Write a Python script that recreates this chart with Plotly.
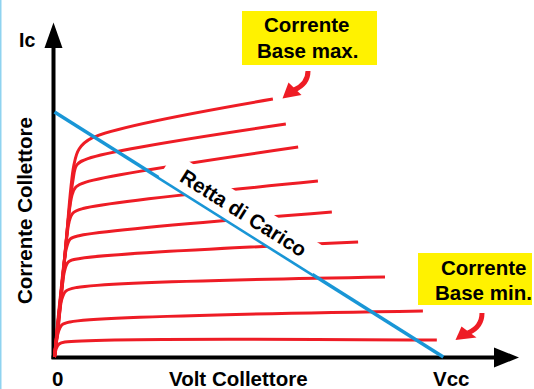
import plotly.graph_objects as go

W, H = 534, 389

# Load line: supply voltage (V) and collector saturation current (mA)
VCC = 12.0
IC_SAT = 10.0

# Output characteristics, one curve per base current (lowest base current first).
# Collector-emitter voltage in V
CURVE_VCE = [
    [0, 0.05, 0.14, 0.32, 11.80],
    [0, 0.11, 0.23, 0.48, 11.37],
    [0, 0.11, 0.22, 0.35, 0.69, 10.20],
    [0, 0.15, 0.31, 0.43, 0.79, 9.37],
    [0, 0.17, 0.37, 0.49, 0.79, 8.56],
    [0, 0.23, 0.45, 0.57, 0.88, 8.13],
    [0, 0.26, 0.54, 0.66, 0.97, 7.52],
    [0, 0.29, 0.57, 0.69, 1.03, 7.14],
    [0, 0.31, 0.60, 0.76, 1.16, 6.74],
]
# Collector current in mA
CURVE_IC = [
    [0, 0.33, 0.53, 0.61, 0.69],
    [0, 0.98, 1.31, 1.43, 1.88],
    [0, 1.10, 2.33, 2.69, 2.84, 3.27],
    [0, 1.71, 3.51, 3.88, 4.02, 4.69],
    [0, 2.33, 4.45, 4.82, 4.96, 5.92],
    [0, 2.73, 5.51, 5.88, 6.06, 7.18],
    [0, 3.35, 6.61, 6.94, 7.14, 8.57],
    [0, 3.76, 7.22, 7.84, 8.10, 9.51],
    [0, 3.96, 7.84, 8.49, 8.94, 10.53],
]

AXIS_X_LABEL = "Volt Collettore"
AXIS_Y_LABEL = "Corrente Collettore"
ORIGIN_LABEL = "0"
VCC_LABEL = "Vcc"
IC_LABEL = "Ic"
LOAD_LINE_LABEL = "Retta di Carico"
NOTE_MAX = ["Corrente", "Base max."]
NOTE_MIN = ["Corrente", "Base min."]

RED = "#ee1c25"
BLUE = "#1996d6"
YELLOW = "#fff200"
FONT = "Liberation Sans, Arial, sans-serif"

fig = go.Figure()

for vce, ic in zip(CURVE_VCE, CURVE_IC):
    fig.add_trace(go.Scatter(
        x=vce, y=ic, mode="lines",
        line=dict(color=RED, width=3, shape="spline", smoothing=1.0),
        hoverinfo="skip", showlegend=False,
    ))

fig.add_trace(go.Scatter(
    x=[0, VCC], y=[IC_SAT, 0], mode="lines",
    line=dict(color=BLUE, width=3.5),
    hoverinfo="skip", showlegend=False,
))


def fx(px):
    return px / W


def fy(py):
    return 1 - py / H


def path(points, close=False):
    s = "M " + " L ".join(f"{fx(x):.5f},{fy(y):.5f}" for x, y in points)
    return s + (" Z" if close else "")


def qpath(p0, c, p1):
    return (f"M {fx(p0[0]):.5f},{fy(p0[1]):.5f} "
            f"Q {fx(c[0]):.5f},{fy(c[1]):.5f} {fx(p1[0]):.5f},{fy(p1[1]):.5f}")


shapes = []
# thin frame line on the left edge
shapes.append(dict(type="rect", xref="paper", yref="paper",
                   x0=0, x1=fx(1.5), y0=0, y1=1,
                   fillcolor="#8fd3f0", line=dict(width=0), layer="below"))
# axes with arrowheads
shapes.append(dict(type="line", xref="paper", yref="paper",
                   x0=fx(53.5), x1=fx(53.5), y0=fy(359), y1=fy(46),
                   line=dict(color="black", width=4), layer="below"))
shapes.append(dict(type="path", xref="paper", yref="paper",
                   path=path([(44.5, 48), (53.5, 22.5), (62.5, 48)], True),
                   fillcolor="black", line=dict(width=0), layer="below"))
shapes.append(dict(type="line", xref="paper", yref="paper",
                   x0=fx(51.5), x1=fx(496), y0=fy(357.5), y1=fy(357.5),
                   line=dict(color="black", width=4), layer="below"))
shapes.append(dict(type="path", xref="paper", yref="paper",
                   path=path([(494, 347.5), (519, 357.5), (494, 367.5)], True),
                   fillcolor="black", line=dict(width=0), layer="below"))
# note boxes
shapes.append(dict(type="rect", xref="paper", yref="paper",
                   x0=fx(242), x1=fx(377), y0=fy(65), y1=fy(11),
                   fillcolor=YELLOW, line=dict(width=0), layer="above"))
shapes.append(dict(type="rect", xref="paper", yref="paper",
                   x0=fx(418), x1=fx(532), y0=fy(305), y1=fy(253),
                   fillcolor=YELLOW, line=dict(width=0), layer="above"))
# curved pointers
shapes.append(dict(type="path", xref="paper", yref="paper",
                   path=qpath((308, 71), (308, 84), (294, 90)),
                   line=dict(color=RED, width=5), layer="above"))
shapes.append(dict(type="path", xref="paper", yref="paper",
                   path=path([(288.5, 82.5), (301.5, 95), (282.5, 98.5)], True),
                   fillcolor=RED, line=dict(width=0), layer="above"))
shapes.append(dict(type="path", xref="paper", yref="paper",
                   path=qpath((482, 313), (482, 327), (468, 333)),
                   line=dict(color=RED, width=5), layer="above"))
shapes.append(dict(type="path", xref="paper", yref="paper",
                   path=path([(461.5, 326.5), (476.5, 337.5), (455.5, 340)], True),
                   fillcolor=RED, line=dict(width=0), layer="above"))


def label(text, x, y, size, angle=0, **kw):
    return dict(text=text, xref="paper", yref="paper", x=fx(x), y=fy(y),
                xanchor="center", yanchor="middle", showarrow=False,
                textangle=angle,
                font=dict(family=FONT, size=size, color="black", weight="bold"),
                **kw)


annotations = [
    label(IC_LABEL, 27, 40, 19.5),
    label(AXIS_Y_LABEL, 24, 211, 20.5, -90),
    label(ORIGIN_LABEL, 57, 378, 20.5),
    label(AXIS_X_LABEL, 238, 378, 20.5),
    label(VCC_LABEL, 451, 378, 20.5),
    label(NOTE_MAX[0], 306.5, 24.5, 20.5),
    label(NOTE_MAX[1], 307, 50.5, 20.5),
    label(NOTE_MIN[0], 483.5, 267, 20.5),
    label(NOTE_MIN[1], 483, 292, 20.5),
    label(LOAD_LINE_LABEL, 243.6, 213.2, 20.5, 32.2,
          bgcolor="white", width=181, height=27.5, borderpad=0),
]

fig.update_layout(
    width=W, height=H,
    margin=dict(l=0, r=0, t=0, b=0),
    paper_bgcolor="white", plot_bgcolor="white",
    xaxis=dict(range=[-1.682, 14.799], visible=False, fixedrange=True),
    yaxis=dict(range=[-1.306, 14.571], visible=False, fixedrange=True),
    shapes=shapes, annotations=annotations,
    showlegend=False, hovermode=False,
)

fig.write_html("out.html")
